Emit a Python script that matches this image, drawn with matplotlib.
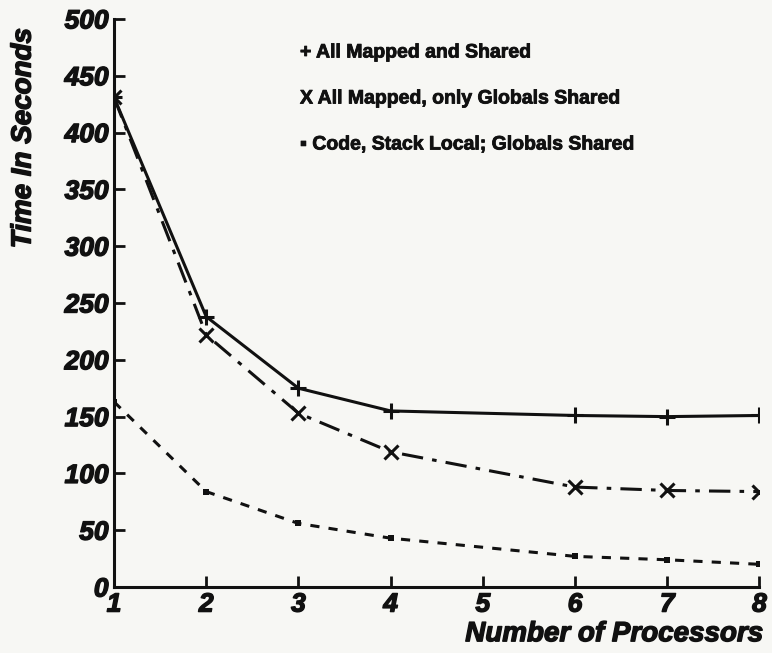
import matplotlib.pyplot as plt
import matplotlib.patheffects as pe

# processors used (no run at 5)
procs = [1, 2, 3, 4, 6, 7, 8]

# time in seconds
all_shared = [431, 238, 175, 155, 151, 150, 151]
globals_shared = [431, 222, 153, 119, 88, 85, 84]
code_stack_local = [163, 84, 56, 43, 27, 24, 20]

legend_labels = [
    "+ All Mapped and Shared",
    "X All Mapped, only Globals Shared",
    "\u25aa Code, Stack Local; Globals Shared",
]

ink = "#111111"
paper = "#f7f7f4"
heavy = [pe.withStroke(linewidth=1.0, foreground=ink)]

fig = plt.figure(figsize=(7.72, 6.53), dpi=100, facecolor=paper)
ax = fig.add_axes([0.1477, 0.101, 0.836, 0.870])
ax.set_facecolor(paper)

ax.plot(procs, all_shared, color=ink, lw=2.2, ls="-",
        marker="+", ms=12, mew=2.2)
ax.plot(procs, globals_shared, color=ink, lw=2.2, ls=(0, (7, 3, 1.5, 3)),
        marker="x", ms=10, mew=2.2)
ax.plot(procs, code_stack_local, color=ink, lw=2.2, ls=(0, (3, 3)),
        marker="s", ms=5, mew=0)

ax.set_xlim(1, 8)
ax.set_ylim(0, 500)
ax.set_xticks(range(1, 9))
ax.set_yticks(range(0, 501, 50))

for side in ["top", "right"]:
    ax.spines[side].set_visible(False)
for side in ["left", "bottom"]:
    ax.spines[side].set_linewidth(2.2)
    ax.spines[side].set_color(ink)

tick_font = dict(family="Liberation Sans", weight="bold", style="italic", size=19)
ax.tick_params(direction="in", length=8, width=2, color=ink, pad=4)
ax.set_xticklabels([str(v) for v in range(1, 9)], fontdict=tick_font, color=ink)
ax.set_yticklabels([str(v) for v in range(0, 501, 50)], fontdict=tick_font, color=ink)
for t in ax.get_xticklabels() + ax.get_yticklabels():
    t.set_path_effects(heavy)

label_font = dict(family="Liberation Sans", weight="bold", style="italic", size=20)
ax.set_ylabel("Time In Seconds", fontdict=label_font, color=ink)
ax.yaxis.set_label_coords(-0.12, 0.79)
ax.yaxis.label.set_path_effects(heavy)
ax.set_xlabel("Number of Processors", fontdict=label_font, color=ink)
ax.xaxis.set_label_coords(1.005, -0.083)
ax.xaxis.label.set_horizontalalignment("right")
ax.xaxis.label.set_verticalalignment("center")
ax.xaxis.label.set_path_effects(heavy)

for i, txt in enumerate(legend_labels):
    fig.text(300 / 772, 1 - (53 + 46 * i) / 653, txt, family="Liberation Sans",
             weight="bold", size=14, color=ink, va="center", ha="left",
             path_effects=[pe.withStroke(linewidth=0.6, foreground=ink)])

fig.savefig("out.png", dpi=100, facecolor=paper)
